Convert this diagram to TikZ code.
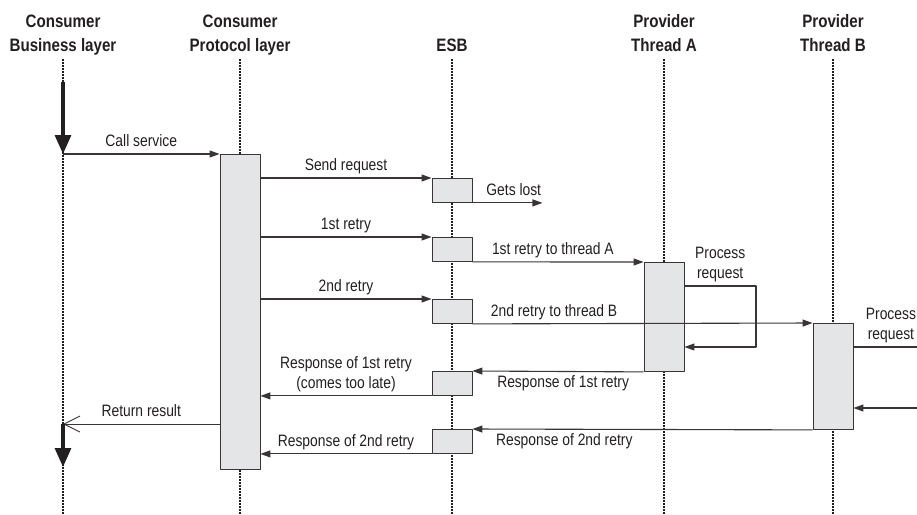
\documentclass[tikz,border=0pt]{standalone}
\usepackage{fontspec}
\setmainfont{Liberation Sans}[FakeStretch=0.84]
\usetikzlibrary{arrows.meta,positioning}
\definecolor{ink}{HTML}{231F20}
\definecolor{bargray}{HTML}{E4E5E7}
\begin{document}
\begin{tikzpicture}[x=1pt, y=-1pt, line join=round, font=\fontsize{16.5}{20}\selectfont, text=ink,
		lifeline/.style={draw=ink, line width=2.3pt, dash pattern=on 1.5pt off 1.5pt},
		head/.style={font=\fontsize{18}{24}\selectfont\bfseries, align=center, inner sep=0pt, text depth=0pt, anchor=south},
		bar/.style={draw=ink!90, fill=bargray, line width=0.9pt, minimum width=40pt, inner sep=0pt, anchor=north},
		msg/.style={draw=ink!90, line width=1.1pt, -{Triangle[length=10pt,width=7pt]}},
		back/.style={draw=ink!90, line width=0.9pt, -{Straight Barb[length=16pt,width=16pt,line width=0.9pt]}},
		flow/.style={draw=ink, line width=3.2pt, -{Triangle[length=19pt,width=16pt]}},
		lbl/.style={inner sep=1pt, align=center, text depth=4pt}]
	\useasboundingbox (0,0) rectangle (917,514);
	% lifelines
	\foreach \x/\n/\t in {63/cb/{Consumer\\Business layer}, 240/cp/{Consumer\\Protocol layer}, 452/esb/ESB, 664/ta/{Provider\\Thread A}, 833/tb/{Provider\\Thread B}}{
		\node[head] (h\n) at (\x,52) {\t};
		\draw[lifeline] ([yshift=-7pt]h\n.south) -- (h\n.south |- 0,514);
	}
	% activation bars
	\node[bar, minimum height=315pt] (cpbar) at (240,154) {};
	\foreach \y/\n in {178/1, 237/2, 299/3, 371/4, 429/5}{
		\node[bar, minimum height=24pt] (esb\n) at (452,\y) {};
	}
	\node[bar, minimum height=109pt] (tabar) at (664,262) {};
	\node[bar, minimum height=106pt] (tbbar) at (833,323) {};
	\path (756,286) coordinate (la) (756,347) coordinate (lb)
		(917,347) coordinate (ra) (917,408) coordinate (rb)
		([yshift=-270pt]cpbar.north west) coordinate (rr);
	% consumer business layer
	\draw[flow] ([yshift=-30pt]hcb.south) -- (hcb.south |- cpbar.north);
	\draw[msg] (hcb.south |- cpbar.north) -- node[lbl, above=2pt] {Call service} (cpbar.north west);
	\draw[back] (rr) -- node[lbl, above=2pt] {Return result} (hcb.south |- rr);
	\draw[flow] (hcb.south |- rr) -- ++(0,43);
	% requests
	\draw[msg] (cpbar.east |- esb1.north) -- node[lbl, above=2pt] {Send request} (esb1.north west);
	\draw[msg] (esb1.south east) -- node[lbl, above=2pt, pos=0.59] {Gets lost} ++(70,0);
	\draw[msg] (cpbar.east |- esb2.north) -- node[lbl, above=2pt] {1st retry} (esb2.north west);
	\draw[msg] (esb2.south east) -- node[lbl, above=2pt, pos=0.47] {1st retry to thread A} (tabar.north west);
	\draw[msg] (cpbar.east |- esb3.north) -- node[lbl, above=2pt] {2nd retry} (esb3.north west);
	\draw[msg] (esb3.south east) -- node[lbl, above=2pt, pos=0.24] {2nd retry to thread B} (tbbar.north west);
	% processing
	\draw[msg] (tabar.east |- la) -- node[lbl, above=2pt] {Process\\request} (la) -- (lb) -- (tabar.east |- lb);
	\draw[draw=ink!90, line width=1.1pt] (tbbar.east |- ra) -- node[lbl, above=2pt, pos=0.59] {Process\\request} (ra);
	\draw[msg] (rb) -- (tbbar.east |- rb);
	% responses
	\draw[msg] (tabar.south west) -- node[lbl, below=3pt, pos=0.47] {Response of 1st retry} (esb4.north east);
	\draw[msg] (esb4.south west) -- node[lbl, above=2pt] {Response of 1st retry\\(comes too late)} (cpbar.east |- esb4.south);
	\draw[msg] (tbbar.south west) -- node[lbl, below=3pt, pos=0.73] {Response of 2nd retry} (esb5.north east);
	\draw[msg] (esb5.south west) -- node[lbl, above=2pt] {Response of 2nd retry} (cpbar.east |- esb5.south);
\end{tikzpicture}
\end{document}
